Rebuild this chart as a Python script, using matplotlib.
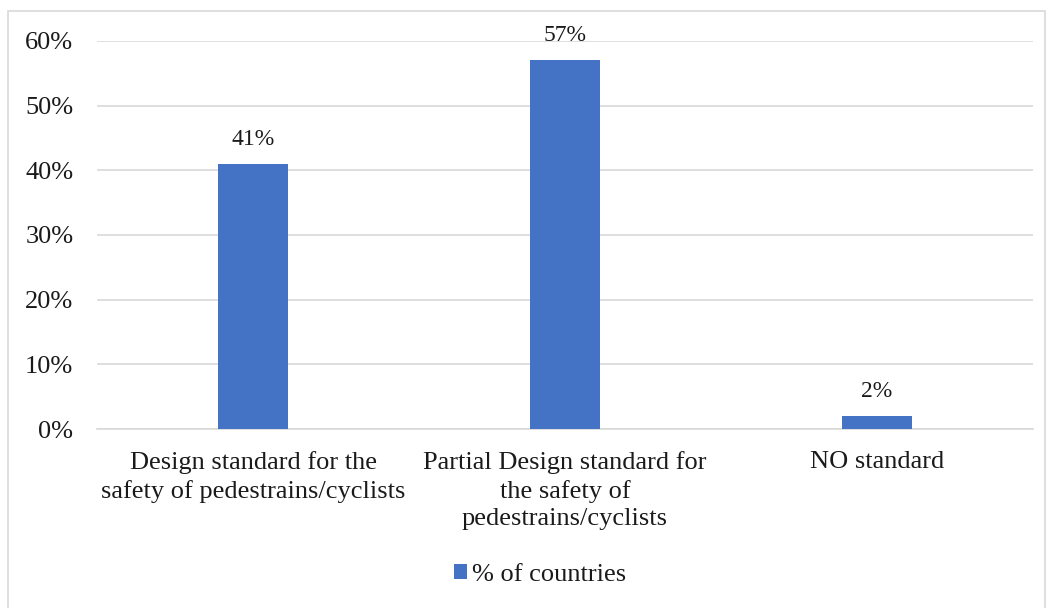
import matplotlib.pyplot as plt
from matplotlib.patches import Rectangle
from matplotlib.ticker import PercentFormatter

# survey share per design-standard category
categories = ['Design standard for the\nsafety of pedestrains/cyclists',
              'Partial Design standard for\nthe safety of\npedestrains/cyclists',
              'NO standard']
shares = [0.41, 0.57, 0.02]
value_labels = ['41%', '57%', '2%']
series_name = '% of countries'

plt.rcParams['font.family'] = ['Liberation Serif', 'DejaVu Serif']
bar_color = '#4472C4'
grid_color = '#D9D9D9'
text_color = '#1a1a1a'

fig = plt.figure(figsize=(10.51, 6.08), dpi=100)
ax = fig.add_axes([0.0923, 0.2944, 0.8906, 0.6382])

x = range(len(categories))
bars = ax.bar(x, shares, width=0.224, color=bar_color, label=series_name, zorder=3)

for b, lab in zip(bars, value_labels):
    ax.annotate(lab, (b.get_x() + b.get_width() / 2, b.get_height()),
                xytext=(0, 10), textcoords='offset points',
                ha='center', va='bottom', fontsize=17, color=text_color)

ax.set_xlim(-0.5, len(categories) - 0.5)
ax.set_ylim(0, 0.6)
ax.set_yticks([i / 10 for i in range(7)])
ax.yaxis.set_major_formatter(PercentFormatter(1.0, decimals=0))
ax.set_xticks(list(x))
ax.set_xticklabels(categories, fontsize=19, color=text_color, linespacing=1.3)
ax.tick_params(axis='y', labelsize=19, labelcolor=text_color, length=0, pad=17)
ax.tick_params(axis='x', length=0, pad=16)

ax.grid(axis='y', color=grid_color, linewidth=1.2, zorder=0)
for side in ['top', 'right', 'left']:
    ax.spines[side].set_visible(False)
ax.spines['bottom'].set_color(grid_color)
ax.spines['bottom'].set_linewidth(1.2)

fig.legend(handles=[bars], labels=[series_name], loc='center',
           bbox_to_anchor=(540 / 1051, 1 - 575 / 608), frameon=False,
           fontsize=19, handlelength=0.5, handleheight=0.5,
           handletextpad=0.2, labelcolor=text_color)

# light frame around the chart area
fig.patches.append(Rectangle((8 / 1051, -0.01), 1037 / 1051, 1 - 11 / 608 + 0.01,
                             transform=fig.transFigure, fill=False,
                             edgecolor=grid_color, linewidth=1.2))

fig.savefig('out.png', dpi=100)
